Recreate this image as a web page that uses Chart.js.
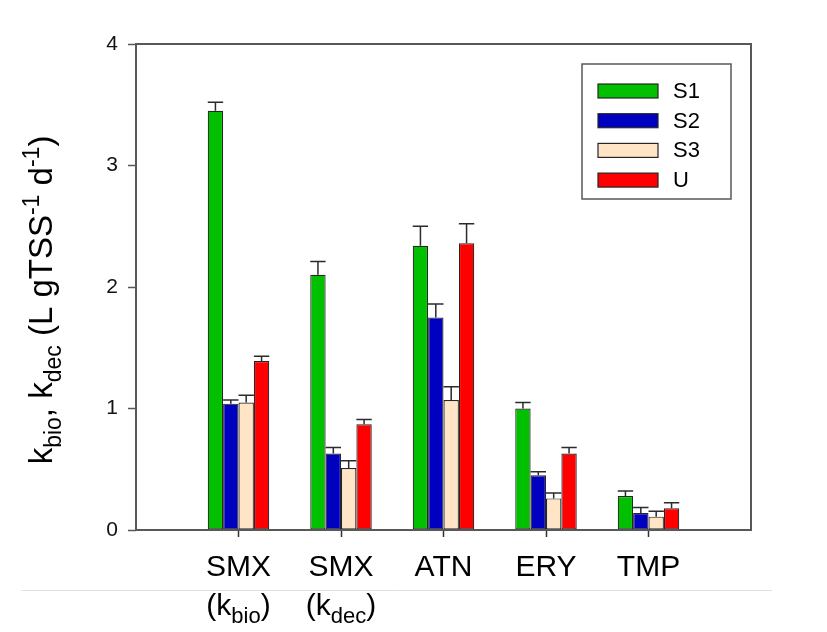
<!DOCTYPE html>
<html>
<head>
<meta charset="utf-8">
<script src="https://cdn.jsdelivr.net/npm/chart.js@4.4.1/dist/chart.umd.min.js"></script>
<style>
  html, body { margin: 0; padding: 0; background: #fff; }
  #wrap { width: 827px; height: 632px; }
</style>
</head>
<body>
<div id="wrap"><canvas id="c" width="827" height="632"></canvas></div>
<script>
// Compounds on the x axis; the SMX pair is split by rate constant (k_bio / k_dec)
const categories = ['SMX', 'SMX', 'ATN', 'ERY', 'TMP'];
const rateSubscripts = ['bio', 'dec', null, null, null];

// Rate constants (L gTSS^-1 d^-1) per sludge
const seriesNames = ['S1', 'S2', 'S3', 'U'];
const s1Values = [3.45, 2.10, 2.34, 1.00, 0.28];
const s2Values = [1.04, 0.63, 1.75, 0.45, 0.14];
const s3Values = [1.05, 0.51, 1.07, 0.26, 0.11];
const uValues  = [1.39, 0.87, 2.36, 0.63, 0.18];

// Standard deviations (upper error bars)
const s1Errors = [0.07, 0.11, 0.16, 0.05, 0.04];
const s2Errors = [0.03, 0.05, 0.11, 0.03, 0.045];
const s3Errors = [0.06, 0.06, 0.11, 0.045, 0.045];
const uErrors  = [0.04, 0.04, 0.16, 0.05, 0.045];

const yTicks = [0, 1, 2, 3, 4];

const seriesColors = ['#00c000', '#0000c0', '#ffe4c6', '#ff0000'];
const FONT = '"Liberation Sans", Arial, Helvetica, sans-serif';

// One empty slot on each side of the five groups
const pad = arr => [null, ...arr, null];
const labels = ['', ...categories, ''];
const valueSets = [s1Values, s2Values, s3Values, uValues];
const errorSets = [s1Errors, s2Errors, s3Errors, uErrors];

const datasets = seriesNames.map((name, i) => ({
  label: name,
  data: pad(valueSets[i]),
  errors: pad(errorSets[i]),
  backgroundColor: seriesColors[i],
  borderColor: '#262626',
  borderWidth: 1.2,
  borderSkipped: false,
  categoryPercentage: 0.6,
  barPercentage: 1.0
}));

// Frame around the plot area
const framePlugin = {
  id: 'frame',
  afterDatasetsDraw(chart) {
    const { ctx, chartArea: a } = chart;
    ctx.save();
    ctx.strokeStyle = '#585858';
    ctx.lineWidth = 2;
    ctx.strokeRect(a.left, a.top, a.right - a.left, a.bottom - a.top);
    ctx.restore();
  }
};

// Upper error bars with caps as wide as the bar
const errorBarPlugin = {
  id: 'errorBars',
  afterDatasetsDraw(chart) {
    const { ctx } = chart;
    const yScale = chart.scales.y;
    ctx.save();
    ctx.strokeStyle = '#2b2b2b';
    ctx.lineWidth = 1.5;
    chart.data.datasets.forEach((ds, di) => {
      const meta = chart.getDatasetMeta(di);
      meta.data.forEach((bar, j) => {
        const v = ds.data[j];
        const e = ds.errors[j];
        if (v == null || e == null) return;
        const yTop = yScale.getPixelForValue(v + e);
        const half = bar.width / 2;
        ctx.beginPath();
        ctx.moveTo(bar.x, bar.y);
        ctx.lineTo(bar.x, yTop);
        ctx.moveTo(bar.x - half, yTop);
        ctx.lineTo(bar.x + half, yTop);
        ctx.stroke();
      });
    });
    ctx.restore();
  }
};

// Draws a run of text pieces (normal / sub / sup) starting at x, returns its width
function drawRuns(ctx, runs, x, y, mainSize, smallSize, measureOnly) {
  let cx = x;
  runs.forEach(r => {
    const size = r.k ? smallSize : mainSize;
    ctx.font = size + 'px ' + FONT;
    const dy = r.k === 'sub' ? mainSize * 0.26 : r.k === 'sup' ? -mainSize * 0.40 : 0;
    if (!measureOnly) ctx.fillText(r.t, cx, y + dy);
    cx += ctx.measureText(r.t).width;
  });
  return cx - x;
}

// Category labels (two lines with subscripts) and the y-axis title
const textPlugin = {
  id: 'texts',
  afterDraw(chart) {
    const { ctx, chartArea: a } = chart;
    const xScale = chart.scales.x;
    ctx.save();

    // light rule under the first label line
    ctx.strokeStyle = '#e2e2e2';
    ctx.lineWidth = 1;
    ctx.beginPath();
    ctx.moveTo(21, a.bottom + 60.5);
    ctx.lineTo(772, a.bottom + 60.5);
    ctx.stroke();

    ctx.fillStyle = '#000';
    ctx.textBaseline = 'alphabetic';
    ctx.textAlign = 'left';
    categories.forEach((name, i) => {
      const x = xScale.getPixelForValue(i + 1);
      ctx.font = '30px ' + FONT;
      const w = ctx.measureText(name).width;
      ctx.fillText(name, x - w / 2, a.bottom + 46);
      const sub = rateSubscripts[i];
      if (sub) {
        const runs = [{ t: '(k' }, { t: sub, k: 'sub' }, { t: ')' }];
        const tw = drawRuns(ctx, runs, 0, 0, 30, 22, true);
        drawRuns(ctx, runs, x - tw / 2, a.bottom + 85, 30, 22, false);
      }
    });

    // rotated y-axis title
    const titleRuns = [
      { t: 'k' }, { t: 'bio', k: 'sub' }, { t: ', k' }, { t: 'dec', k: 'sub' },
      { t: ' (L gTSS' }, { t: '-1', k: 'sup' }, { t: ' d' }, { t: '-1', k: 'sup' }, { t: ')' }
    ];
    const tw = drawRuns(ctx, titleRuns, 0, 0, 33, 23, true);
    ctx.translate(52, 300);
    ctx.rotate(-Math.PI / 2);
    drawRuns(ctx, titleRuns, -tw / 2, 0, 33, 23, false);
    ctx.restore();
  }
};

// Boxed legend in the upper right of the plot
const legendPlugin = {
  id: 'boxLegend',
  afterDatasetsDraw(chart) {
    const { ctx, chartArea: a } = chart;
    const left = a.right - 169, top = a.top + 20, w = 149, h = 135;
    ctx.save();
    ctx.fillStyle = '#fff';
    ctx.fillRect(left, top, w, h);
    ctx.strokeStyle = '#585858';
    ctx.lineWidth = 1.5;
    ctx.strokeRect(left, top, w, h);
    ctx.font = '22px ' + FONT;
    ctx.textBaseline = 'middle';
    ctx.textAlign = 'left';
    chart.data.datasets.forEach((ds, i) => {
      const cy = top + 27 + i * 29.7;
      ctx.fillStyle = ds.backgroundColor;
      ctx.fillRect(left + 16, cy - 7, 60, 14);
      ctx.strokeStyle = '#262626';
      ctx.lineWidth = 1.2;
      ctx.strokeRect(left + 16, cy - 7, 60, 14);
      ctx.fillStyle = '#000';
      ctx.fillText(ds.label, left + 91, cy + 1);
    });
    ctx.restore();
  }
};

new Chart(document.getElementById('c'), {
  type: 'bar',
  data: { labels, datasets },
  options: {
    responsive: false,
    animation: false,
    devicePixelRatio: 1,
    layout: { padding: { left: 0, top: 44, right: 76, bottom: 0 } },
    plugins: { legend: { display: false }, tooltip: { enabled: false } },
    scales: {
      x: {
        type: 'category',
        offset: false,
        grid: {
          offset: false,
          drawOnChartArea: false,
          drawTicks: true,
          tickLength: 7,
          tickWidth: 1.5,
          tickColor: ctx => (ctx.index === 0 || ctx.index === labels.length - 1) ? 'rgba(0,0,0,0)' : '#333'
        },
        border: { display: false },
        ticks: { display: false },
        afterFit: s => { s.height = 102; }
      },
      y: {
        min: 0,
        max: 4,
        afterBuildTicks: s => { s.ticks = yTicks.map(v => ({ value: v })); },
        grid: {
          drawOnChartArea: false,
          drawTicks: true,
          tickLength: 8,
          tickWidth: 1.5,
          tickColor: '#585858'
        },
        border: { display: false },
        ticks: {
          padding: 10,
          color: '#111',
          font: { family: FONT, size: 21 }
        },
        afterFit: s => { s.width = 136; }
      }
    }
  },
  plugins: [framePlugin, errorBarPlugin, legendPlugin, textPlugin]
});
</script>
</body>
</html>
